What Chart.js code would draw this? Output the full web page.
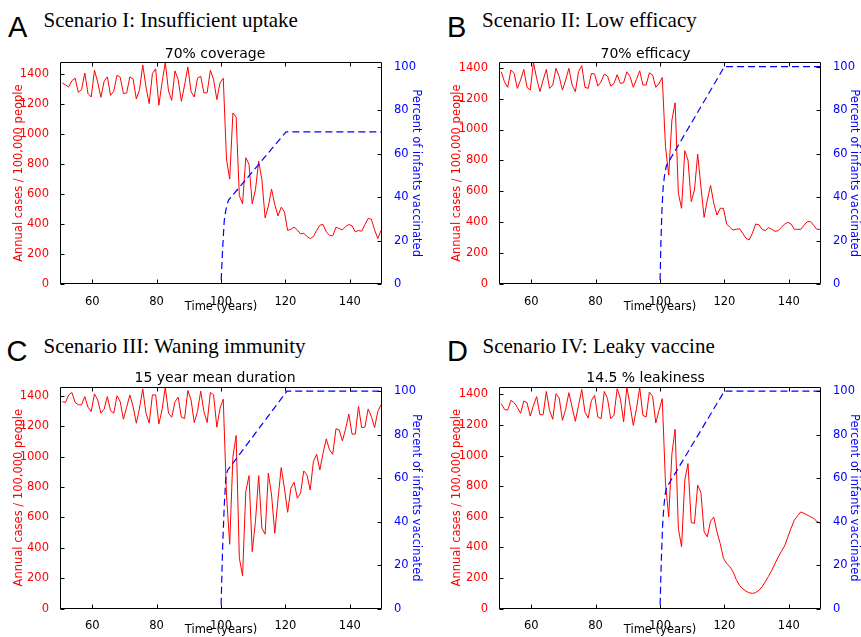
<!DOCTYPE html>
<html>
<head>
<meta charset="utf-8">
<script src="https://cdn.jsdelivr.net/npm/chart.js@4.4.1/dist/chart.umd.min.js"></script>
<style>
  body { margin: 0; background: #fff; }
  #page { position: relative; width: 861px; height: 637px; overflow: hidden; }
  canvas { position: absolute; }
  .tag { position: absolute; font-family: "Liberation Sans"; font-size: 29px; line-height: 1; color: #000; }
  .head { position: absolute; font-family: "Liberation Serif"; font-size: 21px; line-height: 1; color: #000; white-space: nowrap; }
</style>
</head>
<body>
<div id="page">
  <div class="tag" style="left:8px;top:13px">A</div>
  <div class="head" style="left:43.5px;top:10.4px">Scenario I: Insufficient uptake</div>
  <div class="tag" style="left:447px;top:13px">B</div>
  <div class="head" style="left:482px;top:10.4px">Scenario II: Low efficacy</div>
  <div class="tag" style="left:6.5px;top:337px">C</div>
  <div class="head" style="left:43.5px;top:335.7px">Scenario III: Waning immunity</div>
  <div class="tag" style="left:447px;top:337px">D</div>
  <div class="head" style="left:482.5px;top:335.7px">Scenario IV: Leaky vaccine</div>

  <canvas id="chartA" width="430" height="280" style="left:0;top:40px"></canvas>
  <canvas id="chartB" width="431" height="280" style="left:430px;top:40px"></canvas>
  <canvas id="chartC" width="430" height="276" style="left:0;top:365px"></canvas>
  <canvas id="chartD" width="431" height="276" style="left:430px;top:365px"></canvas>
</div>
<script>
// annual incidence, one value per year (plotted at mid-year)
const years = Array.from({ length: 100 }, (_, i) => 50.7 + i);

const casesA = [1338, 1325, 1311, 1353, 1369, 1275, 1293, 1404, 1267, 1244,
  1422, 1344, 1242, 1349, 1378, 1255, 1282, 1389, 1375, 1267,
  1271, 1378, 1364, 1231, 1293, 1458, 1311, 1200, 1400, 1431,
  1189, 1340, 1475, 1284, 1222, 1418, 1360, 1215, 1324, 1444,
  1280, 1244, 1369, 1382, 1271, 1273, 1422, 1360, 1227, 1338,
  1369, 831, 698, 1138, 1111, 587, 533, 840, 796, 533,
  627, 818, 693, 440, 516, 631, 529, 453, 511, 480,
  356, 364, 378, 360, 333, 338, 316, 302, 316, 356,
  391, 396, 347, 324, 320, 378, 369, 360, 382, 396,
  387, 347, 356, 351, 396, 436, 431, 360, 302, 356];

const casesB = [1374, 1309, 1273, 1385, 1363, 1266, 1320, 1389, 1273, 1255,
  1432, 1331, 1245, 1320, 1389, 1266, 1288, 1396, 1342, 1255,
  1320, 1396, 1288, 1245, 1374, 1413, 1273, 1266, 1363, 1359,
  1281, 1309, 1359, 1346, 1281, 1298, 1355, 1298, 1303, 1374,
  1342, 1273, 1325, 1380, 1288, 1288, 1367, 1352, 1273, 1298,
  1337, 889, 705, 1061, 1173, 587, 490, 863, 802, 533,
  608, 841, 630, 431, 544, 638, 522, 446, 490, 490,
  388, 367, 349, 354, 358, 328, 296, 285, 328, 388,
  384, 354, 345, 365, 354, 341, 345, 367, 388, 399,
  388, 354, 354, 354, 380, 403, 405, 380, 354, 354];

const casesC = [1362, 1356, 1406, 1422, 1356, 1341, 1341, 1395, 1325, 1297,
  1413, 1373, 1286, 1312, 1395, 1303, 1286, 1400, 1362, 1246,
  1325, 1406, 1330, 1220, 1319, 1446, 1286, 1220, 1406, 1406,
  1215, 1308, 1457, 1286, 1259, 1360, 1391, 1259, 1251, 1435,
  1373, 1224, 1297, 1431, 1297, 1224, 1422, 1406, 1194, 1319,
  1378, 748, 424, 1000, 1139, 332, 217, 770, 875, 375,
  573, 875, 529, 490, 891, 748, 496, 720, 928, 792,
  634, 792, 832, 727, 760, 906, 880, 781, 968, 1016,
  913, 1023, 1117, 1045, 1016, 1183, 1176, 1104, 1183, 1280,
  1148, 1148, 1330, 1191, 1194, 1314, 1264, 1191, 1297, 1341];

const casesD = [1339, 1302, 1297, 1361, 1346, 1315, 1276, 1356, 1346, 1258,
  1328, 1385, 1267, 1267, 1419, 1295, 1237, 1404, 1376, 1230,
  1302, 1411, 1317, 1224, 1328, 1432, 1284, 1245, 1361, 1393,
  1252, 1241, 1419, 1372, 1241, 1263, 1437, 1372, 1220, 1448,
  1328, 1198, 1307, 1444, 1263, 1252, 1415, 1387, 1213, 1296,
  1372, 820, 600, 1013, 1172, 524, 404, 839, 948, 563,
  557, 807, 759, 502, 469, 572, 598, 502, 425, 330,
  295, 275, 240, 190, 152, 130, 115, 104, 100, 105,
  120, 143, 176, 212, 250, 294, 337, 375, 410, 468,
  525, 578, 606, 632, 623, 612, 601, 590, 571, 559];

// percent of infants vaccinated
const vaxTimeA = [50, 100, 100.5, 101, 101.5, 102.3, 120.2, 150];
const vaxPctA = [0, 0, 16, 29, 34, 38.5, 70, 70];
const vaxTimeB = [50, 100, 100.3, 100.6, 101, 101.5, 102, 120, 150];
const vaxPctB = [0, 0, 20, 34, 45, 51, 54.5, 100, 100];
const vaxTimeC = [50, 100, 100.5, 101, 101.5, 102, 120.5, 150];
const vaxPctC = [0, 0, 28, 47, 60, 63.5, 100, 100];
const vaxTimeD = [50, 100, 100.4, 100.8, 101.2, 101.6, 102, 120, 150];
const vaxPctD = [0, 0, 22, 38, 47, 52.5, 55.5, 100, 100];

const xTicks = [60, 80, 100, 120, 140];
const casesTicks = [0, 200, 400, 600, 800, 1000, 1200, 1400];
const pctTicks = [0, 20, 40, 60, 80, 100];

const RED = '#ff0000';
const BLUE = '#0000ff';
const tickFont = { family: 'DejaVu Sans', size: 11.5 };
const plain = v => String(v);

// black box with inward tick marks, matplotlib style
const frame = {
  id: 'frame',
  afterDatasetsDraw(chart) {
    const { ctx, chartArea: a, scales } = chart;
    const L = Math.round(a.left) + 0.5, R = Math.round(a.right) - 0.5;
    const T = Math.round(a.top) + 0.5, B = Math.round(a.bottom) - 0.5;
    ctx.save();
    ctx.strokeStyle = '#000';
    ctx.lineWidth = 1;
    ctx.beginPath();
    ctx.rect(L, T, R - L, B - T);
    scales.x.ticks.forEach(t => {
      const px = Math.round(scales.x.getPixelForValue(t.value)) + 0.5;
      ctx.moveTo(px, B); ctx.lineTo(px, B - 4);
      ctx.moveTo(px, T); ctx.lineTo(px, T + 4);
    });
    scales.y.ticks.forEach(t => {
      const py = Math.round(scales.y.getPixelForValue(t.value)) + 0.5;
      ctx.moveTo(L, py); ctx.lineTo(L + 4, py);
    });
    scales.y1.ticks.forEach(t => {
      const py = Math.round(scales.y1.getPixelForValue(t.value)) + 0.5;
      ctx.moveTo(R, py); ctx.lineTo(R - 4, py);
    });
    ctx.stroke();
    ctx.restore();
  }
};

function makeChart(p) {
  new Chart(document.getElementById(p.id), {
    type: 'line',
    data: {
      datasets: [{
        label: 'Percent of infants vaccinated',
        data: p.vaxTime.map((t, i) => ({ x: t, y: p.vaxPct[i] })),
        yAxisID: 'y1',
        borderColor: BLUE,
        borderWidth: 1.2,
        borderDash: [7, 4],
        pointRadius: 0,
        order: 1
      }, {
        label: 'Annual cases',
        data: years.map((t, i) => ({ x: t, y: p.cases[i] })),
        yAxisID: 'y',
        borderColor: RED,
        borderWidth: 1,
        pointRadius: 0,
        order: 2
      }]
    },
    options: {
      responsive: false,
      animation: false,
      layout: { padding: 0 },
      plugins: {
        legend: { display: false },
        tooltip: { enabled: false },
        title: {
          display: true,
          text: p.subtitle,
          color: '#000',
          font: { family: 'DejaVu Sans', size: 14, weight: 'normal' },
          padding: { top: p.titlePad, bottom: 0 }
        }
      },
      scales: {
        x: {
          type: 'linear', min: 50, max: 150,
          grid: { display: false }, border: { display: false },
          afterBuildTicks: s => { s.ticks = xTicks.map(v => ({ value: v })); },
          afterFit: s => { s.height = p.xHeight; },
          ticks: { color: '#000', font: tickFont, padding: p.xTickPad, maxRotation: 0, autoSkip: false, callback: plain },
          title: { display: true, text: 'Time (years)', color: '#000', font: tickFont, padding: { top: 0, bottom: p.xTitlePad } }
        },
        y: {
          position: 'left', min: 0, max: p.casesMax,
          grid: { display: false }, border: { display: false },
          afterBuildTicks: s => { s.ticks = casesTicks.map(v => ({ value: v })); },
          afterFit: s => { s.width = p.leftW; },
          ticks: { color: RED, font: tickFont, padding: 3, autoSkip: false, callback: plain },
          title: { display: true, text: 'Annual cases / 100,000 people', color: RED, font: tickFont, padding: { top: p.leftTitlePad, bottom: 0 } }
        },
        y1: {
          position: 'right', min: 0, max: 102,
          grid: { display: false }, border: { display: false },
          afterBuildTicks: s => { s.ticks = pctTicks.map(v => ({ value: v })); },
          afterFit: s => { s.width = p.rightW; },
          ticks: { color: BLUE, font: tickFont, padding: 4, autoSkip: false, callback: plain },
          title: { display: true, text: 'Percent of infants vaccinated', color: BLUE, font: tickFont, padding: { top: p.rightTitlePad, bottom: 0 } }
        }
      }
    },
    plugins: [frame]
  });
}

makeChart({ id: 'chartA', subtitle: '70% coverage', cases: casesA, casesMax: 1475, vaxTime: vaxTimeA, vaxPct: vaxPctA,
  titlePad: 5.5, xHeight: 36, xTickPad: 3, xTitlePad: 6, leftW: 60, rightW: 48, leftTitlePad: 11.8, rightTitlePad: 7.4 });
makeChart({ id: 'chartB', subtitle: '70% efficacy', cases: casesB, casesMax: 1435, vaxTime: vaxTimeB, vaxPct: vaxPctB,
  titlePad: 5.5, xHeight: 36, xTickPad: 3, xTitlePad: 6, leftW: 69, rightW: 40, leftTitlePad: 20, rightTitlePad: 0 });
makeChart({ id: 'chartC', subtitle: '15 year mean duration', cases: casesC, casesMax: 1460, vaxTime: vaxTimeC, vaxPct: vaxPctC,
  titlePad: 4.9, xHeight: 32.3, xTickPad: 2, xTitlePad: 4, leftW: 60, rightW: 48, leftTitlePad: 11.8, rightTitlePad: 7.4 });
makeChart({ id: 'chartD', subtitle: '14.5 % leakiness', cases: casesD, casesMax: 1450, vaxTime: vaxTimeD, vaxPct: vaxPctD,
  titlePad: 4.9, xHeight: 32.3, xTickPad: 2, xTitlePad: 4, leftW: 69, rightW: 40, leftTitlePad: 20, rightTitlePad: 0 });
</script>
</body>
</html>
